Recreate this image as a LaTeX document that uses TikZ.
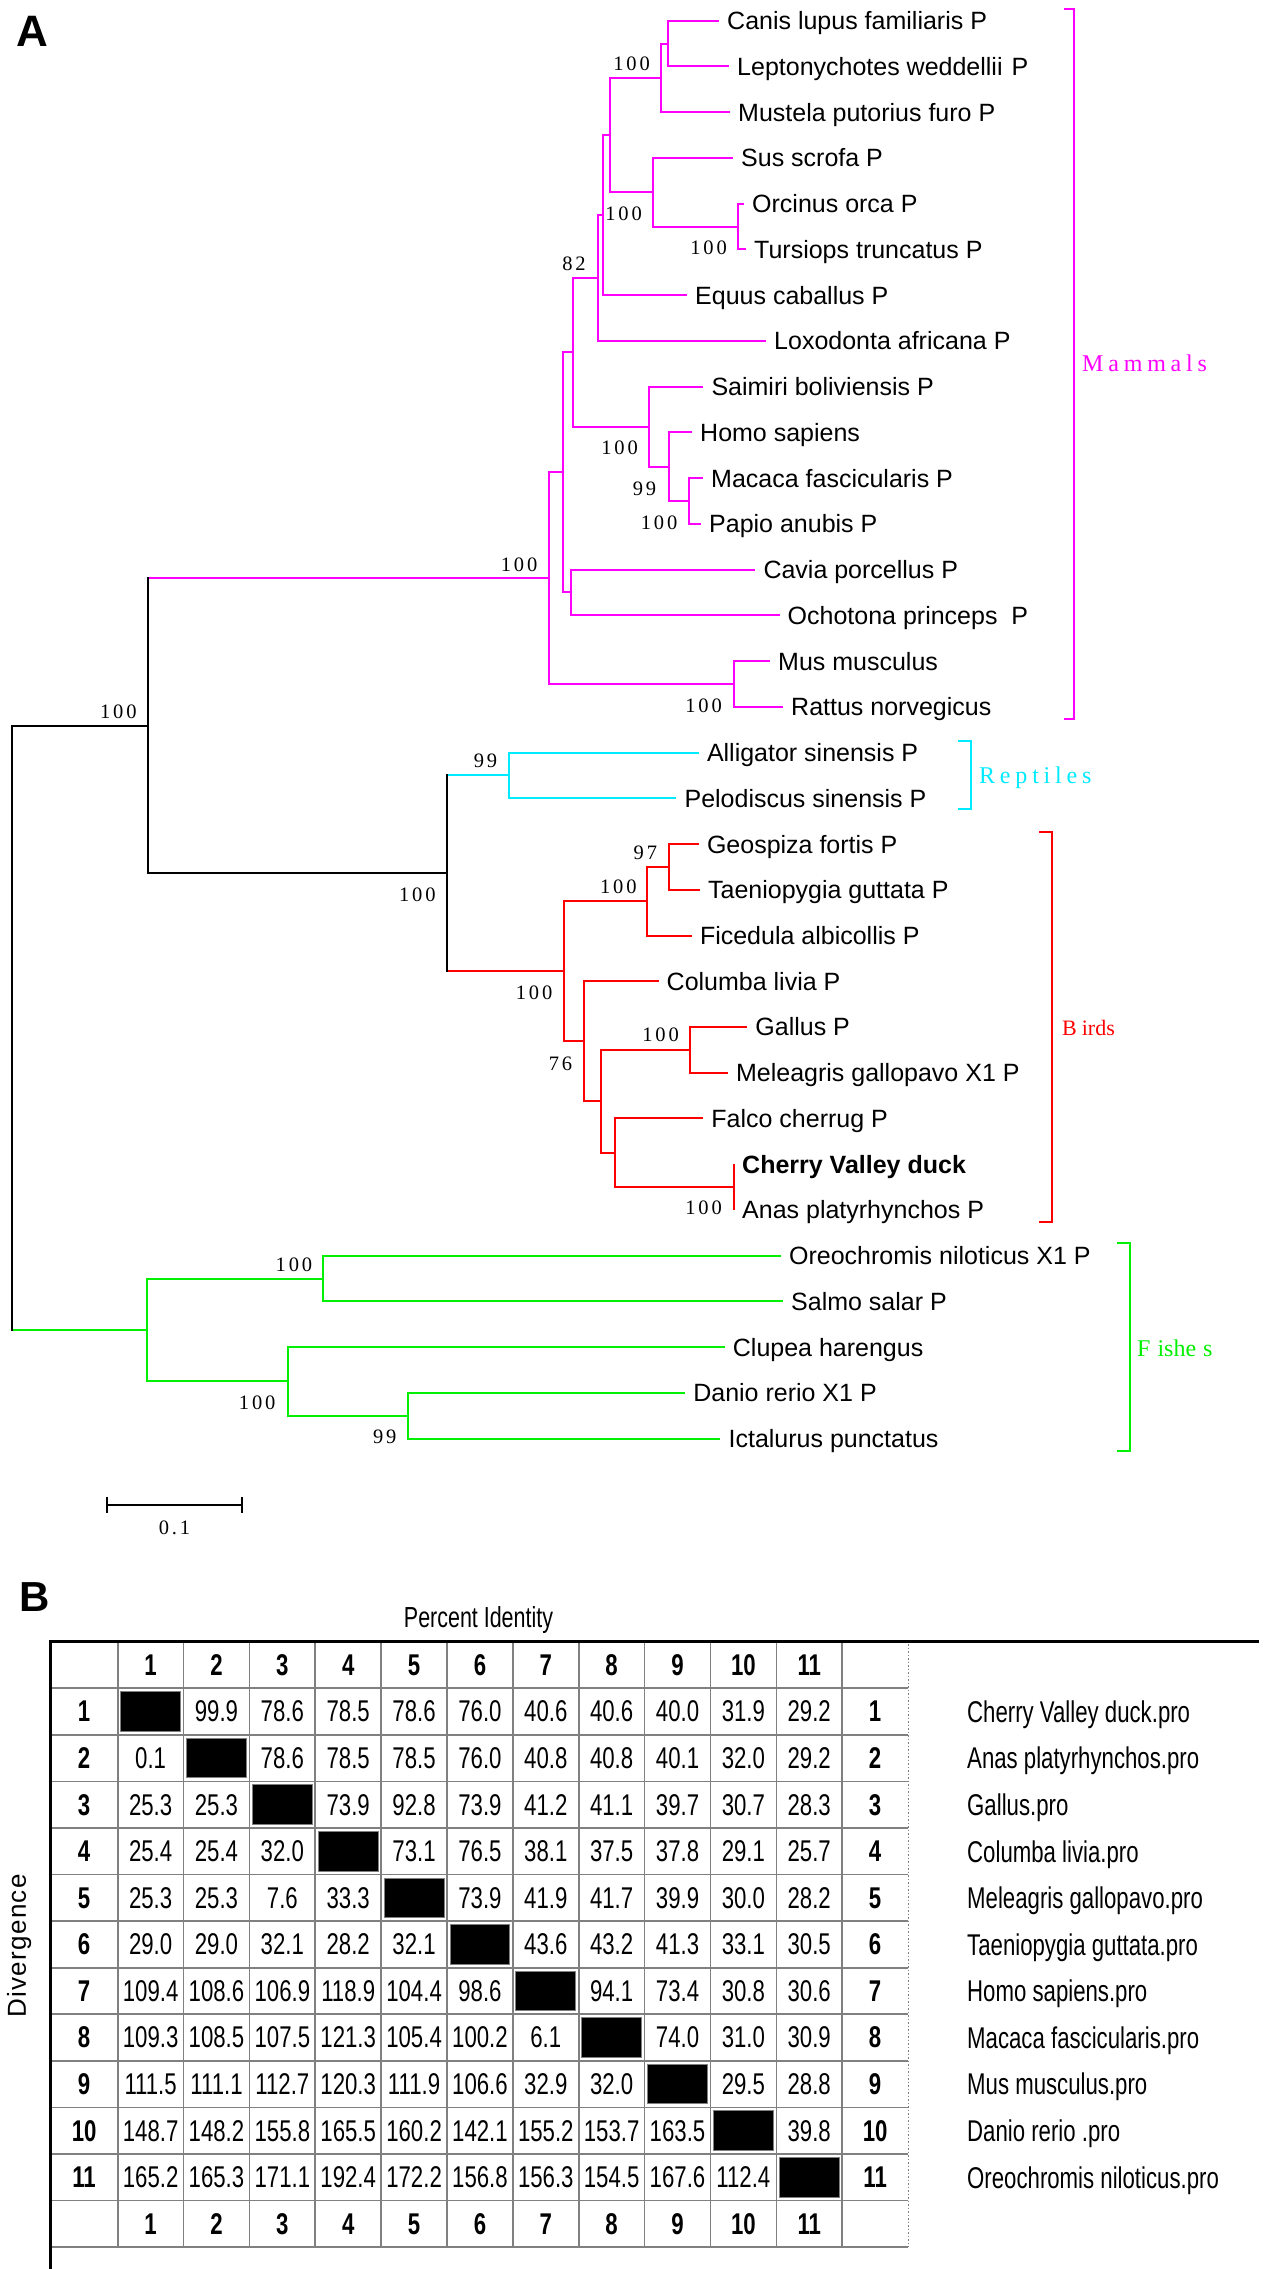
\documentclass[tikz,border=0pt]{standalone}
\usepackage{fontspec}
\setmainfont{Liberation Sans}
\newfontfamily\bsfont[LetterSpace=14]{Liberation Serif}
\newfontfamily\grpfont[LetterSpace=20]{Liberation Serif}
\newfontfamily\plainserif{Liberation Serif}
\newfontfamily\tabfont[FakeStretch=0.74]{Liberation Sans}
\newfontfamily\divfont[LetterSpace=5]{Liberation Sans}
\definecolor{mag}{RGB}{255,0,255}
\definecolor{cy}{RGB}{0,235,255}
\definecolor{rd}{RGB}{255,0,0}
\definecolor{gr}{RGB}{0,240,0}
\definecolor{gridc}{RGB}{128,128,128}
\begin{document}
\begin{tikzpicture}[x=1pt,y=-1pt,
  br/.style={line width=2pt},
  leaf/.style={anchor=west, inner xsep=8pt, inner ysep=0pt, text height=18pt, text depth=0pt, font=\fontsize{25}{30}\selectfont},
  boot/.style={inner sep=0pt, font=\bsfont\fontsize{20.5}{24}\selectfont},
  grp/.style={anchor=west, inner sep=0pt, text height=16pt, text depth=0pt, font=\grpfont\fontsize{24}{28}\selectfont},
  panel/.style={anchor=base west, inner sep=0pt, font=\bfseries\fontsize{44}{50}\selectfont},
  gridline/.style={draw=gridc, line width=1.6pt},
  val/.style={inner sep=0pt, font=\tabfont\fontsize{30}{36}\selectfont},
  hdr/.style={inner sep=0pt, font=\tabfont\bfseries\fontsize{30}{36}\selectfont},
  nm/.style={anchor=west, inner sep=0pt, text height=21.5pt, text depth=0pt, font=\tabfont\fontsize{30}{36}\selectfont},
  bracket/.style={line width=2pt}
]
\fill[white] (0,0) rectangle (1267,2269);
\useasboundingbox (0,0) rectangle (1267,2269);

% ---------- panel letters ----------
\node[panel] (pA) at (16.5,46.7) {A};
\node[panel, font=\bfseries\fontsize{42}{48}\selectfont] (pB) at (19.5,1611.7) {B};

% ---------- leaves ----------
\node[leaf] (L1) at (719,20.7) {Canis lupus familiaris P};
\node[leaf] (L2) at (729,66.44) {Leptonychotes weddellii\ \hspace{2pt}P};
\node[leaf] (L3) at (730,112.18) {Mustela putorius furo P};
\node[leaf] (L4) at (733,157.92) {Sus scrofa P};
\node[leaf] (L5) at (744,203.66) {Orcinus orca P};
\node[leaf] (L6) at (746,249.4) {Tursiops truncatus P};
\node[leaf] (L7) at (687,295.14) {Equus caballus P};
\node[leaf] (L8) at (766,340.88) {Loxodonta africana P};
\node[leaf] (L9) at (703.3,386.62) {Saimiri boliviensis P};
\node[leaf] (L10) at (692,432.36) {Homo sapiens};
\node[leaf] (L11) at (703,478.1) {Macaca fascicularis P};
\node[leaf] (L12) at (701,523.84) {Papio anubis P};
\node[leaf] (L13) at (755.3,569.58) {Cavia porcellus P};
\node[leaf] (L14) at (779.5,615.32) {Ochotona princeps\ \ P};
\node[leaf] (L15) at (770,661.06) {Mus musculus};
\node[leaf] (L16) at (783,706.8) {Rattus norvegicus};
\node[leaf] (L17) at (698.8,752.54) {Alligator sinensis P};
\node[leaf] (L18) at (676.4,798.28) {Pelodiscus sinensis P};
\node[leaf] (L19) at (698.8,844.02) {Geospiza fortis P};
\node[leaf] (L20) at (699.9,889.76) {Taeniopygia guttata P};
\node[leaf] (L21) at (691.8,935.5) {Ficedula albicollis P};
\node[leaf] (L22) at (658.5,981.24) {Columba livia P};
\node[leaf] (L23) at (747.2,1026.98) {Gallus P};
\node[leaf] (L24) at (727.9,1072.72) {Meleagris gallopavo X1 P};
\node[leaf] (L25) at (703.2,1118.46) {Falco cherrug P};
\node[leaf] (L26) at (734,1164.2) {\bfseries Cherry Valley duck};
\node[leaf] (L27) at (734,1209.94) {Anas platyrhynchos P};
\node[leaf] (L28) at (780.9,1255.68) {Oreochromis niloticus X1 P};
\node[leaf] (L29) at (783,1301.42) {Salmo salar P};
\node[leaf] (L30) at (724.7,1347.16) {Clupea harengus};
\node[leaf] (L31) at (685.1,1392.9) {Danio rerio X1 P};
\node[leaf] (L32) at (720.4,1438.64) {Ictalurus punctatus};

% ---------- internal nodes ----------
\coordinate (mCL) at (668,43.57);
\coordinate (mCLM) at (661,77.88);
\coordinate (mOT) at (737.7,226.53);
\coordinate (mSOT) at (652.7,192.23);
\coordinate (mcar) at (610.3,135.06);
\coordinate (mcarE) at (602.7,215.1);
\coordinate (mlox) at (597.7,277.99);
\coordinate (mMP) at (689,500.97);
\coordinate (mHMP) at (669,466.67);
\coordinate (mprim) at (649,426.65);
\coordinate (mlp) at (573.3,352.32);
\coordinate (mCO) at (570.8,592.45);
\coordinate (mlpCO) at (563.3,472.39);
\coordinate (mMR) at (733.9,683.93);
\coordinate (mmam) at (549.3,578.16);
\coordinate (rnode) at (509.4,775.41);
\coordinate (bGT) at (669,866.89);
\coordinate (bGTF) at (647.2,901.2);
\coordinate (bGM) at (689.5,1049.85);
\coordinate (bCA) at (734,1187.07);
\coordinate (bFCA) at (615.4,1152.77);
\coordinate (bGMF) at (601,1101.31);
\coordinate (bcol) at (584.4,1041.28);
\coordinate (bbird) at (563.8,971.24);
\coordinate (nsau) at (447.3,873.33);
\coordinate (namn) at (148.3,725.74);
\coordinate (fOS) at (323.3,1278.55);
\coordinate (fDI) at (408.2,1415.77);
\coordinate (fCDI) at (287.8,1381.47);
\coordinate (ffish) at (146.9,1330.01);
\coordinate (root) at (11.7,1027.88);

% ---------- mammals ----------
\draw[br,mag] (mCL) |- (L1.west);   \draw[br,mag] (mCL) |- (L2.west);
\draw[br,mag] (mCLM) |- (mCL);      \draw[br,mag] (mCLM) |- (L3.west);
\draw[br,mag] (mOT) |- (L5.west);   \draw[br,mag] (mOT) |- (L6.west);
\draw[br,mag] (mSOT) |- (L4.west);  \draw[br,mag] (mSOT) |- (mOT);
\draw[br,mag] (mcar) |- (mCLM);     \draw[br,mag] (mcar) |- (mSOT);
\draw[br,mag] (mcarE) |- (mcar);    \draw[br,mag] (mcarE) |- (L7.west);
\draw[br,mag] (mlox) |- (mcarE);    \draw[br,mag] (mlox) |- (L8.west);
\draw[br,mag] (mMP) |- (L11.west);  \draw[br,mag] (mMP) |- (L12.west);
\draw[br,mag] (mHMP) |- (L10.west); \draw[br,mag] (mHMP) |- (mMP);
\draw[br,mag] (mprim) |- (L9.west); \draw[br,mag] (mprim) |- (mHMP);
\draw[br,mag] (mlp) |- (mlox);      \draw[br,mag] (mlp) |- (mprim);
\draw[br,mag] (mCO) |- (L13.west);  \draw[br,mag] (mCO) |- (L14.west);
\draw[br,mag] (mlpCO) |- (mlp);     \draw[br,mag] (mlpCO) |- (mCO);
\draw[br,mag] (mMR) |- (L15.west);  \draw[br,mag] (mMR) |- (L16.west);
\draw[br,mag] (mmam) |- (mlpCO);    \draw[br,mag] (mmam) |- (mMR);

% ---------- reptiles ----------
\draw[br,cy] (rnode) |- (L17.west); \draw[br,cy] (rnode) |- (L18.west);

% ---------- birds ----------
\draw[br,rd] (bGT) |- (L19.west);   \draw[br,rd] (bGT) |- (L20.west);
\draw[br,rd] (bGTF) |- (bGT);       \draw[br,rd] (bGTF) |- (L21.west);
\draw[br,rd] (bGM) |- (L23.west);   \draw[br,rd] (bGM) |- (L24.west);
\draw[br,rd] (bCA) |- (L26.west);   \draw[br,rd] (bCA) |- (L27.west);
\draw[br,rd] (bFCA) |- (L25.west);  \draw[br,rd] (bFCA) |- (bCA);
\draw[br,rd] (bGMF) |- (bGM);       \draw[br,rd] (bGMF) |- (bFCA);
\draw[br,rd] (bcol) |- (L22.west);  \draw[br,rd] (bcol) |- (bGMF);
\draw[br,rd] (bbird) |- (bGTF);     \draw[br,rd] (bbird) |- (bcol);

% ---------- fishes ----------
\draw[br,gr] (fOS) |- (L28.west);   \draw[br,gr] (fOS) |- (L29.west);
\draw[br,gr] (fDI) |- (L31.west);   \draw[br,gr] (fDI) |- (L32.west);
\draw[br,gr] (fCDI) |- (L30.west);  \draw[br,gr] (fCDI) |- (fDI);
\draw[br,gr] (ffish) |- (fOS);      \draw[br,gr] (ffish) |- (fCDI);

% ---------- deep (black) branches ----------
\draw[br,cy] (nsau |- rnode) -- (rnode);
\draw[br,rd] (nsau |- bbird) -- (bbird);
\draw[br,line cap=rect] (nsau |- rnode) -- (nsau |- bbird);
\draw[br,mag] (namn |- mmam) -- (mmam);
\draw[br,line cap=rect] (namn |- mmam) -- (namn |- nsau) -- (nsau);
\draw[br,gr] (root |- ffish) -- (ffish);
\draw[br,line cap=rect] (root |- ffish) -- (root |- namn) -- (namn);

% ---------- bootstrap values ----------
\node[boot] (b1) at (631.5,64) {100};
\node[boot] (b2) at (623.5,214) {100};
\node[boot] (b3) at (708.5,248) {100};
\node[boot] (b4) at (574,264) {82};
\node[boot] (b5) at (619.5,448) {100};
\node[boot] (b6) at (644.5,489) {99};
\node[boot] (b7) at (659,523) {100};
\node[boot] (b8) at (519,564.6) {100};
\node[boot] (b9) at (703.5,705.7) {100};
\node[boot] (b10) at (485.5,761) {99};
\node[boot] (b11) at (118.3,711.4) {100};
\node[boot] (b12) at (417.3,894.3) {100};
\node[boot] (b13) at (645.4,852.5) {97};
\node[boot] (b14) at (618.3,887.1) {100};
\node[boot] (b15) at (534.1,993.2) {100};
\node[boot] (b16) at (560.5,1064) {76};
\node[boot] (b17) at (660.5,1035) {100};
\node[boot] (b18) at (703.5,1208) {100};
\node[boot] (b19) at (293.9,1264.3) {100};
\node[boot] (b20) at (257.2,1402.3) {100};
\node[boot] (b21) at (384.7,1436.7) {99};

% ---------- group brackets ----------
\draw[bracket,mag] (1064,8.7) -- (1074,8.7) -- (1074,718.8) -- (1064,718.8);
\node[grp,text=mag] (gM) at (1082,363.7) {Mammals};
\draw[bracket,cy] (958.3,740.7) -- (971,740.7) -- (971,809) -- (958.3,809);
\node[grp,text=cy] (gR) at (979,775.4) {Reptiles};
\draw[bracket,rd] (1039,832) -- (1052,832) -- (1052,1222.3) -- (1039,1222.3);
\node[grp,text=rd,font=\plainserif\fontsize{22}{26}\selectfont] (gB) at (1062,1027) {B\hspace{5pt}irds};
\draw[bracket,gr] (1117,1243.3) -- (1129.8,1243.3) -- (1129.8,1451) -- (1117,1451);
\node[grp,text=gr,font=\plainserif\fontsize{24}{28}\selectfont] (gF) at (1137,1348) {F\hspace{7pt}ishe\hspace{7pt}s};

% ---------- scale bar ----------
\coordinate (sbL) at (107.3,1505);
\coordinate (sbR) at (241.6,1505);
\draw[br] (sbL) -- (sbR);
\draw[br] ([yshift=8pt]sbL) -- ([yshift=-8pt]sbL);
\draw[br] ([yshift=8pt]sbR) -- ([yshift=-8pt]sbR);
\node[boot] (sbT) at (174.5,1528.3) {0.1};

% ---------- table B ----------
\node[anchor=base, inner sep=0pt, font=\tabfont\fontsize{29}{34}\selectfont] (pid) at (478.5,1627.7) {Percent Identity};
\node[rotate=90, anchor=base, inner sep=0pt, font=\divfont\fontsize{26}{30}\selectfont] (dvg) at (25.8,1946) {Divergence};

\foreach \k in {1,...,13}
  \draw[gridline] (50.5,{1641.7+46.57*\k}) -- (908.3,{1641.7+46.57*\k});
\foreach \c in {0,...,11}
  \draw[gridline] ({117.7+65.86*\c},1641.7) -- ({117.7+65.86*\c},2247.1);
\draw[draw=gridc, line width=1.2pt, dash pattern=on 1.5pt off 2pt] (908.3,1644) -- (908.3,2247.1);
\draw[line width=2.8pt] (49.2,1641.7) -- (1258.7,1641.7);
\draw[line width=2.6pt] (50.5,1641.7) -- (50.5,2269);

\foreach \i in {1,...,11}
  \draw[draw=gridc, fill=black, line width=1pt]
    ({117.7+65.86*(\i-1)+3},{1641.7+46.57*\i+3.5}) rectangle ({117.7+65.86*\i-3},{1641.7+46.57*(\i+1)-3.5});

\foreach \j in {1,...,11} {
  \node[hdr] (h\j) at ({117.7+65.86*(\j-0.5)},{1641.7+46.57*0.5}) {\j};
  \node[hdr] (f\j) at ({117.7+65.86*(\j-0.5)},{1641.7+46.57*12.5}) {\j};
  \node[hdr] (rl\j) at (84.1,{1641.7+46.57*(\j+0.5)}) {\j};
  \node[hdr] (rr\j) at (875.1,{1641.7+46.57*(\j+0.5)}) {\j};
}

\foreach \i/\vals in {
  1/{{},99.9,78.6,78.5,78.6,76.0,40.6,40.6,40.0,31.9,29.2},
  2/{0.1,{},78.6,78.5,78.5,76.0,40.8,40.8,40.1,32.0,29.2},
  3/{25.3,25.3,{},73.9,92.8,73.9,41.2,41.1,39.7,30.7,28.3},
  4/{25.4,25.4,32.0,{},73.1,76.5,38.1,37.5,37.8,29.1,25.7},
  5/{25.3,25.3,7.6,33.3,{},73.9,41.9,41.7,39.9,30.0,28.2},
  6/{29.0,29.0,32.1,28.2,32.1,{},43.6,43.2,41.3,33.1,30.5},
  7/{109.4,108.6,106.9,118.9,104.4,98.6,{},94.1,73.4,30.8,30.6},
  8/{109.3,108.5,107.5,121.3,105.4,100.2,6.1,{},74.0,31.0,30.9},
  9/{111.5,111.1,112.7,120.3,111.9,106.6,32.9,32.0,{},29.5,28.8},
  10/{148.7,148.2,155.8,165.5,160.2,142.1,155.2,153.7,163.5,{},39.8},
  11/{165.2,165.3,171.1,192.4,172.2,156.8,156.3,154.5,167.6,112.4,{}}} {
  \foreach \v [count=\j] in \vals {
    \node[val] (d\i-\j) at ({117.7+65.86*(\j-0.5)},{1641.7+46.57*(\i+0.5)}) {\v};
  }
}

\foreach \i/\n in {1/Cherry Valley duck.pro, 2/Anas platyrhynchos.pro, 3/Gallus.pro,
  4/Columba livia.pro, 5/Meleagris gallopavo.pro, 6/Taeniopygia guttata.pro,
  7/Homo sapiens.pro, 8/Macaca fascicularis.pro, 9/Mus musculus.pro,
  10/Danio rerio .pro, 11/Oreochromis niloticus.pro}
  \node[nm] (nm\i) at (967,{1641.7+46.57*(\i+0.5)}) {\n};
\end{tikzpicture}
\end{document}
